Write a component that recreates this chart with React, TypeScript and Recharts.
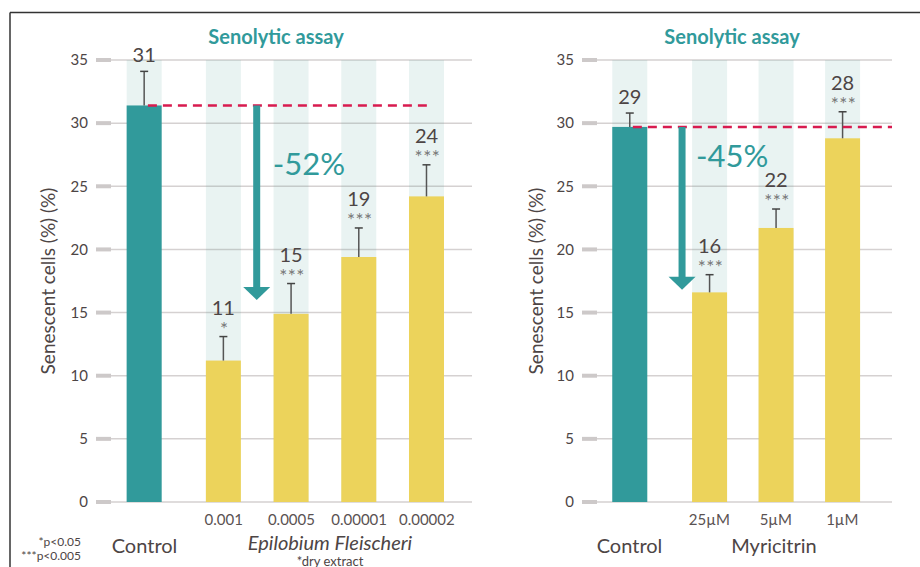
import React from 'react';
import { ComposedChart, Bar, XAxis, YAxis, CartesianGrid, ReferenceLine } from 'recharts';

// ---------- data ----------
const leftCategories = ['Control', '0.001', '0.0005', '0.00001', '0.00002'];
const leftValues = [31.4, 11.2, 14.9, 19.4, 24.2];
const leftErrors = [2.7, 1.9, 2.4, 2.3, 2.5];
const leftShown = ['31', '11', '15', '19', '24'];
const leftSig = ['', '*', '***', '***', '***'];

const rightCategories = ['Control', '25µM', '5µM', '1µM'];
const rightValues = [29.7, 16.6, 21.7, 28.8];
const rightErrors = [1.1, 1.4, 1.5, 2.1];
const rightShown = ['29', '16', '22', '28'];
const rightSig = ['', '***', '***', '***'];

const yTicks = [0, 5, 10, 15, 20, 25, 30, 35];

const leftReduction = '-52%';
const rightReduction = '-45%';
const leftArrowEnd = 16.0;
const rightArrowEnd = 16.8;

// ---------- styles ----------
const FONT = 'Lato, "Noto Sans", sans-serif';
const TEAL = '#319a9b';
const YELLOW = '#ecd35b';
const RED = '#d81b4f';
const TEXT = '#4d4545';

type Row = { x: number; label: string; value: number; err: number; shown: string; sig: string; control: boolean };

const buildRows = (cats: string[], vals: number[], errs: number[], shown: string[], sig: string[], gap: number): Row[] =>
  cats.map((c, i) => ({
    x: i === 0 ? 0 : i + gap,
    label: c,
    value: vals[i],
    err: errs[i],
    shown: shown[i],
    sig: sig[i],
    control: i === 0,
  }));

const leftRows = buildRows(leftCategories, leftValues, leftErrors, leftShown, leftSig, 0.17);
const rightRows = buildRows(rightCategories, rightValues, rightErrors, rightShown, rightSig, 0.2);

const BarWithErr = (props: any) => {
  const { x, y, width, height, payload } = props;
  const p = payload as Row;
  const ppu = height / p.value;
  const top = y - p.err * ppu;
  const cx = x + width / 2;
  const fill = p.control ? TEAL : YELLOW;
  return (
    <g>
      <rect x={x} y={y} width={width} height={height} fill={fill} />
      <line x1={cx} x2={cx} y1={y} y2={top} stroke="#555" strokeWidth={1.5} />
      <line x1={cx - 4} x2={cx + 4} y1={top} y2={top} stroke="#444" strokeWidth={1.5} />
      {p.sig ? (
        <>
          <text x={cx} y={top - 29 + 7} textAnchor="middle" fontSize={20} fill={TEXT} fontFamily={FONT}>
            {p.shown}
          </text>
          <text x={cx + 1} y={top - 1} textAnchor="middle" fontSize={19} fill="#777" letterSpacing={0.5} fontFamily={FONT}>
            {p.sig}
          </text>
        </>
      ) : (
        <text x={cx} y={top - 16 + 7} textAnchor="middle" fontSize={20} fill={TEXT} fontFamily={FONT}>
          {p.shown}
        </text>
      )}
    </g>
  );
};

const makeTick = (rows: Row[]) => (props: any) => {
  const { x, y, payload } = props;
  const row = rows.find((r) => Math.abs(r.x - payload.value) < 1e-6);
  if (!row) return null;
  if (row.control) {
    return (
      <text x={x} y={y + 43} textAnchor="middle" dominantBaseline="central" fontSize={20} fill={TEXT} fontFamily={FONT}>
        {row.label}
      </text>
    );
  }
  return (
    <text x={x} y={y + 17} textAnchor="middle" dominantBaseline="central" fontSize={15} fill="#5a5252" fontFamily={FONT}>
      {row.label}
    </text>
  );
};

const makeArrow = (text: string, dx: number, dy: number) => (props: any) => {
  const { x1, y1, x2, y2 } = props;
  const headH = 13;
  const headW = 27;
  return (
    <g>
      <line x1={x1} y1={y1} x2={x2} y2={y2 - headH + 1} stroke={TEAL} strokeWidth={7} />
      <polygon points={`${x2 - headW / 2},${y2 - headH} ${x2 + headW / 2},${y2 - headH} ${x2},${y2}`} fill={TEAL} />
      <text x={x1 + dx} y={y1 + dy} dominantBaseline="central" fontSize={31} fill={TEAL} fontFamily={FONT}>
        {text}
      </text>
    </g>
  );
};

type PanelProps = {
  rows: Row[];
  width: number;
  yAxisWidth: number;
  marginRight: number;
  domain: [number, number];
  refEnd: number;
  arrowX: number;
  arrowEnd: number;
  arrowText: string;
  textDx: number;
  textDy: number;
};

const Panel = ({ rows, width, yAxisWidth, marginRight, domain, refEnd, arrowX, arrowEnd, arrowText, textDx, textDy }: PanelProps) => {
  const ctrl = rows[0].value;
  return (
    <ComposedChart width={width} height={567} data={rows} margin={{ top: 60, right: marginRight, bottom: 0, left: 0 }}>
      <CartesianGrid vertical={false} stroke="#d5d1d1" strokeWidth={1.5} />
      <XAxis
        type="number"
        dataKey="x"
        domain={domain}
        ticks={rows.map((r) => r.x)}
        tick={makeTick(rows)}
        axisLine={false}
        tickLine={false}
        tickSize={0}
        tickMargin={0}
        height={65}
        interval={0}
      />
      <YAxis
        domain={[0, 35]}
        ticks={yTicks}
        width={yAxisWidth}
        axisLine={false}
        tickLine={{ stroke: '#cdc9c9', strokeWidth: 4 }}
        tickSize={15}
        tickMargin={8}
        tick={{ fill: TEXT, fontSize: 15, fontFamily: FONT }}
        interval={0}
      />
      <Bar
        dataKey="value"
        barSize={35}
        isAnimationActive={false}
        background={{ fill: '#4a9c98', fillOpacity: 0.12 }}
        shape={BarWithErr}
      />
      <ReferenceLine
        segment={[{ x: 0.05, y: ctrl }, { x: refEnd, y: ctrl }]}
        stroke={RED}
        strokeWidth={2.5}
        strokeDasharray="9 6"
      />
      <ReferenceLine
        segment={[{ x: arrowX, y: ctrl }, { x: arrowX, y: arrowEnd }]}
        shape={makeArrow(arrowText, textDx, textDy)}
      />
    </ComposedChart>
  );
};

export default function App() {
  return (
    <div style={{ position: 'absolute', left: 0, top: 0, width: 920, height: 567, background: '#fff', overflow: 'hidden' }}>
      <div style={{ position: 'absolute', left: 0, top: 0 }}>
        <Panel
          rows={leftRows}
          width={480}
          yAxisWidth={111}
          marginRight={8}
          domain={[-0.495, 4.837]}
          refEnd={leftRows[leftRows.length - 1].x}
          arrowX={1.657}
          arrowEnd={leftArrowEnd}
          arrowText={leftReduction}
          textDx={16}
          textDy={58}
        />
      </div>
      <div style={{ position: 'absolute', left: 480, top: 0 }}>
        <Panel
          rows={rightRows}
          width={440}
          yAxisWidth={117}
          marginRight={28}
          domain={[-0.489, 3.947]}
          refEnd={3.947}
          arrowX={0.79}
          arrowEnd={rightArrowEnd}
          arrowText={rightReduction}
          textDx={14}
          textDy={28}
        />
      </div>
      <svg width={920} height={567} style={{ position: 'absolute', left: 0, top: 0, pointerEvents: 'none' }} fontFamily={FONT}>
        <line x1={10} y1={12.5} x2={920} y2={12.5} stroke="#333" strokeWidth={1.5} />
        <line x1={10} y1={12.5} x2={10} y2={567} stroke="#333" strokeWidth={1.5} />
        <text x={276} y={36} textAnchor="middle" dominantBaseline="central" fontSize={20} fontWeight={700} fill={TEAL}>
          Senolytic assay
        </text>
        <text x={732} y={36} textAnchor="middle" dominantBaseline="central" fontSize={20} fontWeight={700} fill={TEAL}>
          Senolytic assay
        </text>
        <text transform="translate(47 281) rotate(-90)" textAnchor="middle" dominantBaseline="central" fontSize={19} fill={TEXT}>
          Senescent cells (%) (%)
        </text>
        <text transform="translate(535 281) rotate(-90)" textAnchor="middle" dominantBaseline="central" fontSize={19} fill={TEXT}>
          Senescent cells (%) (%)
        </text>
        <text x={330} y={542} textAnchor="middle" dominantBaseline="central" fontSize={20} fontStyle="italic" fill={TEXT}>
          Epilobium Fleischeri
        </text>
        <text x={330} y={560.5} textAnchor="middle" dominantBaseline="central" fontSize={13} fill={TEXT}>
          *dry extract
        </text>
        <text x={774} y={545} textAnchor="middle" dominantBaseline="central" fontSize={20} fill={TEXT}>
          Myricitrin
        </text>
        <text x={81} y={546} textAnchor="end" fontSize={12} fill={TEXT}>
          *p&lt;0.05
        </text>
        <text x={81} y={560} textAnchor="end" fontSize={12} fill={TEXT}>
          ***p&lt;0.005
        </text>
      </svg>
    </div>
  );
}
